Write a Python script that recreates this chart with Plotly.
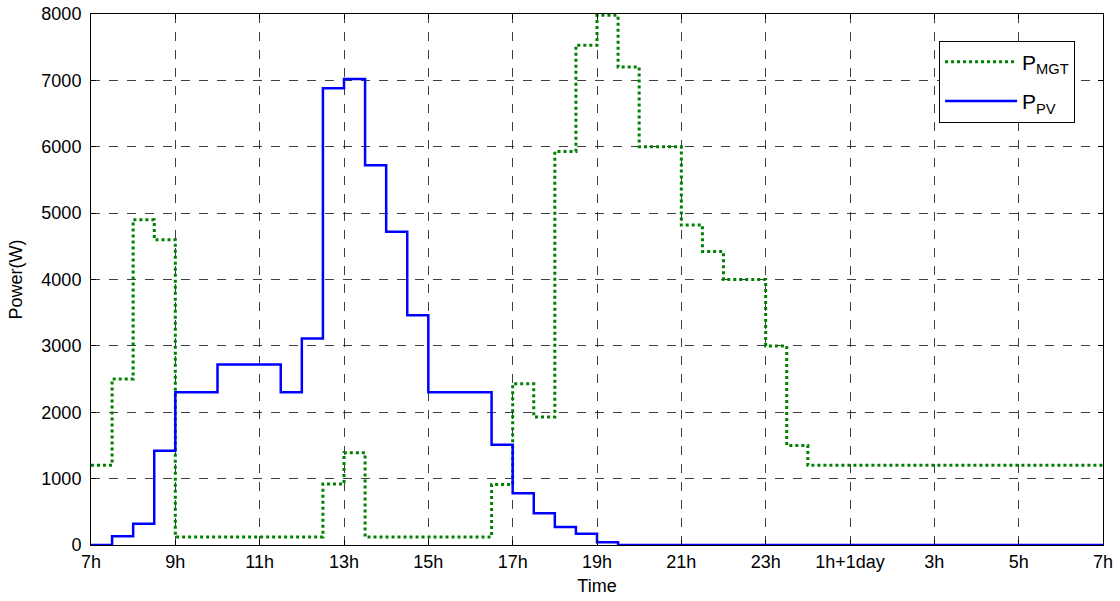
import plotly.graph_objects as go

# Half-hour step start times (hours from 7h, continuing past midnight to 31 = 7h next day)
time_h = [7 + 0.5 * i for i in range(49)]

# MGT power (W) for each half-hour interval starting at 7:00
p_mgt = [1200, 2500, 4900, 4600,
         120, 120, 120, 120, 120, 120, 120,
         920, 1390,
         120, 120, 120, 120, 120, 120,
         910, 2430, 1930, 5930, 7530, 7980, 7200, 6000, 6000,
         4820, 4420, 4000, 4000, 3000, 1500,
         1200, 1200, 1200, 1200, 1200, 1200, 1200,
         1200, 1200, 1200, 1200, 1200, 1200, 1200]

# PV power (W) for each half-hour interval starting at 7:00
p_pv = [0, 130, 320, 1420, 2300, 2300, 2720, 2720, 2720, 2300,
        3110, 6880, 7020, 5720, 4720, 3460, 2300, 2300, 2300, 1510,
        780, 480, 270, 170, 40,
        0, 0, 0, 0, 0, 0, 0, 0, 0, 0, 0, 0,
        0, 0, 0, 0, 0, 0, 0, 0, 0, 0, 0]

tick_vals = [7, 9, 11, 13, 15, 17, 19, 21, 23, 25, 27, 29, 31]
tick_text = ["7h", "9h", "11h", "13h", "15h", "17h", "19h", "21h", "23h",
             "1h+1day", "3h", "5h", "7h"]

FONT = "Arial, Liberation Sans, sans-serif"

fig = go.Figure()
fig.add_trace(go.Scatter(
    x=time_h, y=p_mgt + [p_mgt[-1]], mode="lines", line_shape="hv",
    name="P<sub>MGT</sub>", legendgroup="mgt",
    line=dict(color="rgb(0,128,0)", width=3, dash="dot"),
))
fig.add_trace(go.Scatter(
    x=time_h, y=p_pv + [p_pv[-1]], mode="lines", line_shape="hv",
    name="P<sub>PV</sub>", legendgroup="pv",
    line=dict(color="rgb(0,0,255)", width=2.5),
))

axis_common = dict(
    showline=True, linecolor="black", linewidth=1, mirror="ticks",
    ticks="inside", ticklen=5, tickcolor="black",
    showgrid=True, gridcolor="rgba(0,0,0,0.75)", gridwidth=1, griddash="dash",
    zeroline=False, automargin=False,
    tickfont=dict(family=FONT, size=18, color="black"),
)

fig.update_xaxes(
    range=[7, 31], tickmode="array", tickvals=tick_vals, ticktext=tick_text,
    title=dict(text="Time", font=dict(family=FONT, size=18, color="black"), standoff=8),
    **axis_common,
)
fig.update_yaxes(
    range=[0, 8000], tickmode="array", tickvals=list(range(0, 8001, 1000)),
    ticklabelstandoff=5,
    title=dict(text="Power(W)", font=dict(family=FONT, size=18, color="black"), standoff=14),
    **axis_common,
)

fig.update_layout(
    width=1120, height=601,
    margin=dict(l=91, r=17, t=14, b=56),
    paper_bgcolor="white", plot_bgcolor="white",
    font=dict(family=FONT, color="black"),
    legend=dict(
        x=0.838, y=0.95, xanchor="left", yanchor="top",
        bgcolor="white", bordercolor="black", borderwidth=1,
        font=dict(family=FONT, size=21, color="black"),
        itemwidth=72, tracegroupgap=9,
    ),
    showlegend=True,
)

fig.write_html(
    "out.html",
    config={"displayModeBar": False},
    post_script="document.body.style.margin='0';document.body.style.overflow='hidden';",
)
